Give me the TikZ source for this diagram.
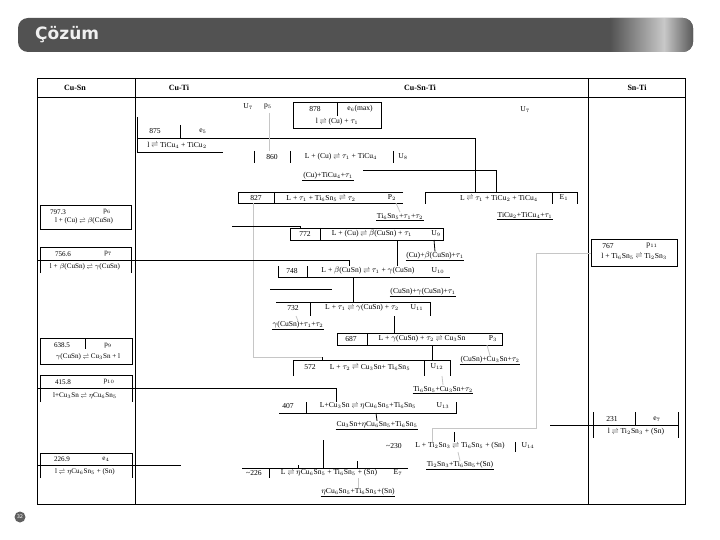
\documentclass[tikz,border=0pt]{standalone}
\usepackage{fontspec}
\setmainfont{Liberation Serif}
\newfontfamily\bannerfont{DejaVu Sans}
\usetikzlibrary{positioning, calc}
\definecolor{bandark}{RGB}{82,82,82}
\definecolor{banlight}{RGB}{200,200,200}
\newcommand{\rxn}{\ensuremath{\mathrel{\scalebox{0.8}[1]{$\rightleftharpoons$}}}}

\begin{document}
\begin{tikzpicture}[x=1pt, y=-1pt,
  every node/.style={font=\fontsize{7.6}{8}\selectfont, inner sep=0pt},
  bin/.style   = {font=\fontsize{7.1}{8}\selectfont},
  hdr/.style   = {font=\fontsize{8}{9}\selectfont\bfseries},
  prod/.style  = {inner sep=0.6pt},
  frame/.style = {line width=0.9pt},
  rule/.style  = {line width=0.8pt},
  link/.style  = {line width=0.8pt},
  glink/.style = {line width=0.8pt, gray!45},
  uline/.style = {line width=0.4pt},
]
  \useasboundingbox (0,0) rectangle (720,540);
  % Title banner.
  \fill[bandark, rounded corners=10pt] (18,18) rectangle (693,52);
  \begin{scope}
    \clip[rounded corners=10pt] (18,18) rectangle (693,52);
    \shade[left color=bandark, right color=banlight] (610,18) rectangle (664,52);
    \shade[left color=banlight, right color=gray!70!black] (664,18) rectangle (693,52);
  \end{scope}
  \node[anchor=west, text=gray!12, font=\bannerfont\bfseries\fontsize{17}{18}\selectfont] (title) at (35,35) {Çözüm};
  \node[circle, fill=gray!75!black, text=white, minimum size=11pt, font=\bannerfont\fontsize{5}{5}\selectfont] (page) at (20,517) {32};

  % Table frame and columns.
  \draw[frame] (37,78) rectangle (685,504);
  \draw[frame] (37,97) -- (685,97);
  \draw[frame] (135,78) -- (135,504);
  \draw[frame] (588,78) -- (588,504);
  \node[hdr] (hCuSn)   at (75,88)  {Cu-Sn};
  \node[hdr] (hCuTi)   at (179,88) {Cu-Ti};
  \node[hdr] (hCuSnTi) at (420,88) {Cu-Sn-Ti};
  \node[hdr] (hSnTi)   at (637,88) {Sn-Ti};

  % Binary Cu-Sn.
  \draw[rule] (40,205) rectangle (131,229);
  \node[bin] (t797) at (58,212) {797.3};  \node[bin] (n797) at (107,212) {p$_6$};
  \node[bin] (r797) at (84,221) {l + (Cu) \rxn\ $\beta$(CuSn)};
  \draw[rule] (40,273) -- (40,247) -- (131,247) -- (131,273);
  \node[bin] (t756) at (63,254) {756.6};  \node[bin] (n756) at (108,254) {p$_7$};
  \node[bin] (r756) at (85,267) {l + $\beta$(CuSn) \rxn\ $\gamma$(CuSn)};
  \draw[rule] (40,338) rectangle (132,364);
  \draw[rule] (85,338) -- (85,349);
  \node[bin] (t638) at (62,345) {638.5};  \node[bin] (n638) at (108,346) {p$_9$};
  \node[bin] (r638) at (88,357) {$\gamma$(CuSn) \rxn\ Cu$_3$Sn + l};
  \draw[rule] (40,402) -- (40,375) -- (132,375) -- (132,402);
  \node[bin] (t415) at (63,382) {415.8};  \node[bin] (n415) at (109,382) {p$_{10}$};
  \node[bin] (r415) at (85,396) {l+Cu$_3$Sn \rxn\ $\eta$Cu$_6$Sn$_5$};
  \draw[rule] (40,478) -- (40,453) -- (132,453) -- (132,478);
  \node[bin] (t226) at (62,459) {226.9};  \node[bin] (n226) at (106,459) {e$_4$};
  \node[bin] (r226) at (85,472) {l \rxn\ $\eta$Cu$_6$Sn$_5$ + (Sn)};

  % Binary Cu-Ti.
  \draw[rule] (137,117) -- (137,152) -- (223,152);
  \draw[rule] (180,125) -- (180,138);
  \node (t875) at (155,131) {875};  \node (n875) at (203,131) {e$_5$};
  \node (r875) at (177,145) {l \rxn\ TiCu$_4$ + TiCu$_2$};
  \node (nU7a) at (248,107) {U$_7$};  \node (np5) at (268,107) {p$_5$};

  % Binary Sn-Ti.
  \draw[rule] (591,239) rectangle (677,266);
  \node (t767) at (608,246) {767};  \node (n767) at (652,246) {p$_{11}$};
  \node (r767) at (634,256) {l + Ti$_6$Sn$_5$ \rxn\ Ti$_2$Sn$_3$};
  \draw[rule] (593,412) -- (593,438);
  \draw[rule] (678,412) -- (678,438);
  \draw[rule] (635,412) -- (635,425);
  \node (t231) at (612,419) {231};  \node (n231) at (657,419) {e$_7$};
  \node (r231) at (636,432) {l \rxn\ Ti$_2$Sn$_3$ + (Sn)};

  % Ternary Cu-Sn-Ti reactions.
  \draw[rule] (293,102) rectangle (381,128);
  \draw[rule] (337,102) -- (337,116);
  \node (t878) at (315,109) {878};  \node (n878) at (360,109) {e$_6$(max)};
  \node (r878) at (337,122) {l \rxn\ (Cu) + $\tau_1$};
  \node (nU7b) at (525,110) {U$_7$};

  \foreach \x in {254,290,393} \draw[rule] (\x,151) -- (\x,163);
  \node (t860) at (272,157) {860};
  \node (r860) at (341,157) {L + (Cu) \rxn\ $\tau_1$ + TiCu$_4$};
  \node (n860) at (403,157) {U$_8$};

  \draw[rule] (403,192) -- (238,192) -- (238,203) -- (403,203);
  \draw[rule] (274,192) -- (274,203);
  \node (t827) at (256,198) {827};
  \node (r827) at (321,198) {L + $\tau_1$ + Ti$_6$Sn$_5$ \rxn\ $\tau_2$};
  \node (n827) at (392,198) {P$_2$};

  \draw[rule] (425,204) -- (425,192) -- (577,192) -- (577,204);
  \draw[rule] (552,192) -- (552,204);
  \node (rE1) at (499,198) {L \rxn\ $\tau_1$ + TiCu$_2$ + TiCu$_4$};
  \node (nE1) at (564,198) {E$_1$};

  \draw[rule] (290,228) rectangle (443,240);
  \draw[rule] (320,228) -- (320,240);
  \node (t772) at (305,234) {772};
  \node (r772) at (372,234) {L + (Cu) \rxn\ $\beta$(CuSn) + $\tau_1$};
  \node (n772) at (436,234) {U$_9$};

  \draw[rule] (278,266) -- (278,277) -- (450,277);
  \draw[rule] (307,266) -- (307,277);
  \node (t748) at (292,271) {748};
  \node (r748) at (368,271) {L + $\beta$(CuSn) \rxn\ $\tau_1$ + $\gamma$(CuSn)};
  \node (n748) at (438,271) {U$_{10}$};

  \draw[rule] (276,302) -- (430,302) -- (430,316);
  \draw[rule] (310,302) -- (310,316);
  \node (t732) at (293,308) {732};
  \node (r732) at (362,308) {L + $\tau_1$ \rxn\ $\gamma$(CuSn) + $\tau_2$};
  \node (n732) at (417,308) {U$_{11}$};

  \draw[rule] (337,333) rectangle (502,345);
  \draw[rule] (367,333) -- (367,345);
  \node (t687) at (351,339) {687};
  \node (r687) at (422,339) {L + $\gamma$(CuSn) + $\tau_2$ \rxn\ Cu$_3$Sn};
  \node (n687) at (493,339) {P$_3$};

  \draw[rule] (293,376) -- (293,360) -- (450,360) -- (450,376);
  \draw[rule] (424,360) -- (424,376);
  \node (t572) at (310,367) {572};
  \node (r572) at (370,367) {L + $\tau_2$ \rxn\ Cu$_3$Sn+ Ti$_6$Sn$_5$};
  \node (n572) at (437,367) {U$_{12}$};

  \draw[rule] (279,413) -- (456,413) -- (456,402);
  \draw[rule] (306,402) -- (306,413);
  \node (t407) at (288,406) {407};
  \node (r407) at (368,406) {L+Cu$_3$Sn \rxn\ $\eta$Cu$_6$Sn$_5$+Ti$_6$Sn$_5$};
  \node (n407) at (443,406) {U$_{13}$};

  \draw[rule] (515,442) -- (515,452);
  \node (t230) at (394,446) {\char`\~230};
  \node (r230) at (460,446) {L + Ti$_2$Sn$_3$ \rxn\ Ti$_6$Sn$_5$ + (Sn)};
  \node (n230) at (528,446) {U$_{14}$};

  \draw[rule] (242,468) -- (408,468);
  \draw[rule] (269,468) -- (269,478);
  \node (t226t) at (254,473) {\char`\~226};
  \node (r226t) at (329,473) {L \rxn\ $\eta$Cu$_6$Sn$_5$ + Ti$_6$Sn$_5$ + (Sn)};
  \node (n226t) at (398,473) {E$_7$};

  % Phase fields after each reaction (underlined).
  \node[prod] (pU8)  at (328,176) {(Cu)+TiCu$_4$+$\tau_1$};
  \node[prod] (pP2)  at (400,216) {Ti$_6$Sn$_5$+$\tau_1$+$\tau_2$};
  \node[prod] (pE1)  at (525,215) {TiCu$_2$+TiCu$_4$+$\tau_1$};
  \node[prod] (pU9)  at (435,256) {(Cu)+$\beta$(CuSn)+$\tau_1$};
  \node[prod] (pU10) at (423,292) {(CuSn)+$\gamma$(CuSn)+$\tau_1$};
  \node[prod] (pU11) at (298,325) {$\gamma$(CuSn)+$\tau_1$+$\tau_2$};
  \node[prod] (pP3)  at (490,360) {(CuSn)+Cu$_3$Sn+$\tau_2$};
  \node[prod] (pU12) at (443,389) {Ti$_6$Sn$_5$+Cu$_3$Sn+$\tau_2$};
  \node[prod] (pU13) at (377,425) {Cu$_3$Sn+$\eta$Cu$_6$Sn$_5$+Ti$_6$Sn$_5$};
  \node[prod] (pU14) at (460,465) {Ti$_2$Sn$_3$+Ti$_6$Sn$_5$+(Sn)};
  \node[prod] (pE7)  at (358,492) {$\eta$Cu$_6$Sn$_5$+Ti$_6$Sn$_5$+(Sn)};
  \foreach \p in {pU8, pP2, pE1, pU9, pU10, pU11, pP3, pU12, pU13, pU14, pE7}
     \draw[uline] (\p.south west) -- (\p.south east);

  % Links between reactions (black: liquid path, gray: solid phase carried on).
  \draw[link]  (137,138) -| (475,192);
  \draw[link]  (363,170) -| (496,192);
  \draw[glink] (269,113) -- (269,151);
  \draw[glink] (396,203) -- (pP2.north);
  \draw[glink] (253,203) |- (322,357);
  \draw[link]  (322,357) -- (322,360);
  \draw[link]  (232,226) -| (300,228);
  \draw[link]  (397,240) -- (397,266);
  \draw[link]  (434,240) -- (pU9.north);
  \draw[link]  (37,260) -| (349,266);
  \draw[link]  (353,277) -- (353,302);
  \draw[link]  (270,289) -- (332,289);
  \draw[glink] (296,316) -- (pU11.north);
  \draw[link]  (394,316) -- (394,333);
  \draw[link]  (432,345) -- (432,360);
  \draw[glink] (487,345) -- (pP3.north);
  \draw[glink] (442,376) -- (pU12.north);
  \draw[link]  (37,388) -| (336,402);
  \draw[link]  (376,413) -- (pU13.north);
  \draw[glink] (591,253) -| (536,428) -| (432,442);
  \draw[link]  (454,432) -- (454,442);
  \draw[link]  (550,425) -- (678,425);
  \draw[glink] (458,452) -- (pU14.north);
  \draw[link]  (37,465) -- (181,465);
  \draw[link]  (298,465) -- (298,468);
  \draw[link]  (323,440) -- (323,468);
  \draw[link]  (357,461) -- (357,468);
  \draw[glink] (358,478) -- (pE7.north);
\end{tikzpicture}
\end{document}
